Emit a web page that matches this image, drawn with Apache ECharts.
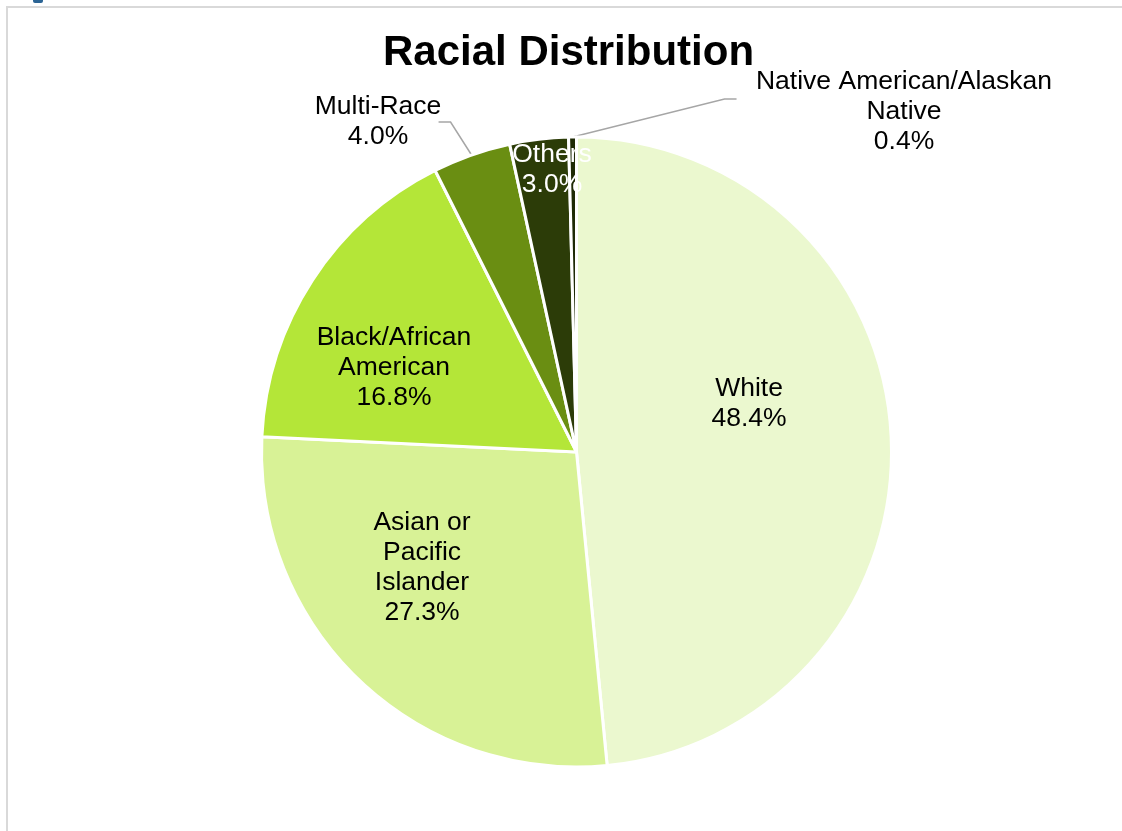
<!DOCTYPE html>
<html>
<head>
<meta charset="utf-8">
<title>Racial Distribution</title>
<script src="https://cdn.jsdelivr.net/npm/echarts@6.0.0/dist/echarts.min.js"></script>
<style>
  html, body { margin: 0; padding: 0; background: #fff; }
  #pie { width: 1122px; height: 831px; }
</style>
</head>
<body>
<div id="pie"></div>
<script>
// racial distribution, clockwise from 12 o'clock
var categories = ['White', 'Asian or Pacific Islander', 'Black/African American',
                  'Multi-Race', 'Others', 'Native American/Alaskan Native'];
var labelText = ['White', 'Asian or\nPacific\nIslander', 'Black/African\nAmerican',
                 'Multi-Race', 'Others', 'Native American/Alaskan\nNative'];
var values = [48.4, 27.3, 16.8, 4.0, 3.0, 0.4];
var colors = ['#ebf8cf', '#d8f296', '#b4e638', '#6a8e12', '#2c3c08', '#1e2a05'];

// where Excel put each label (centre of the text block)
var labelPos = [[749, 404], [422, 568], [394, 368], [378, 122], [552, 170], [904, 112]];
// leader lines for the two outside labels: elbow offset from the slice edge, then tail
var leader = { 3: [[-21, -33], [-12, 0]], 5: [[152, -38], [12, 0]] };

var chart = echarts.init(document.getElementById('pie'));

var seriesData = values.map(function (v, i) {
    var outside = leader[i] != null;
    return {
        name: categories[i],
        value: v,
        itemStyle: { color: colors[i] },
        label: {
            position: outside ? 'outside' : 'inside',
            color: i === 4 ? '#fff' : '#000'
        },
        labelLine: { show: outside }
    };
});

var option = {
    animation: false,
    backgroundColor: '#fff',
    title: {
        text: 'Racial Distribution',
        left: 383,
        top: 32,
        padding: 0,
        textStyle: {
            fontFamily: 'Liberation Sans, Arial',
            fontSize: 42,
            fontWeight: 'bold',
            color: '#000'
        }
    },
    graphic: [
        {
            type: 'rect', silent: true, z: -1,
            shape: { x: 7, y: 7, width: 1130, height: 840 },
            style: { fill: 'none', stroke: '#d9d9d9', lineWidth: 2 }
        },
        {
            type: 'rect', silent: true,
            shape: { x: 33, y: -4, width: 10, height: 7, r: 2 },
            style: { fill: '#2b6494' }
        }
    ],
    series: [
        {
            type: 'pie',
            center: [576.5, 452],
            radius: 315,
            startAngle: 90,
            clockwise: true,
            avoidLabelOverlap: false,
            emphasis: { disabled: true },
            itemStyle: { borderColor: '#fff', borderWidth: 3 },
            label: {
                show: true,
                textBorderWidth: 0,
                formatter: function (p) {
                    var lines = labelText[p.dataIndex].split('\n');
                    lines.push(values[p.dataIndex].toFixed(1) + '%');
                    return lines.map(function (s) { return '{t|' + s + '}'; }).join('\n');
                },
                rich: {
                    t: {
                        fontFamily: 'Liberation Sans, Arial',
                        fontSize: 26.5,
                        lineHeight: 30,
                        align: 'center'
                    }
                }
            },
            labelLine: {
                length: 20,
                length2: 10,
                lineStyle: { color: '#a6a6a6', width: 1.5 }
            },
            labelLayout: function (params) {
                var p = labelPos[params.dataIndex];
                var res = { x: p[0], y: p[1], align: 'center', verticalAlign: 'middle' };
                var l = leader[params.dataIndex];
                if (l && params.labelLinePoints) {
                    var a = params.labelLinePoints[0];
                    var b = [a[0] + l[0][0], a[1] + l[0][1]];
                    var c = [b[0] + l[1][0], b[1] + l[1][1]];
                    res.labelLinePoints = [a, b, c];
                }
                return res;
            },
            data: seriesData
        }
    ]
};

chart.setOption(option);
</script>
</body>
</html>
